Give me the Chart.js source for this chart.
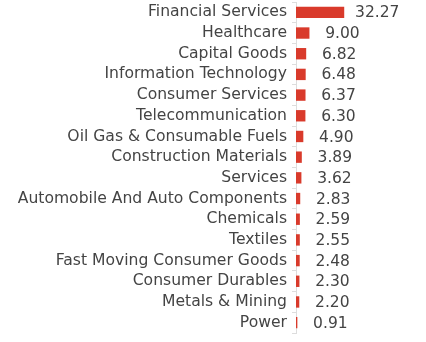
<!DOCTYPE html>
<html>
<head>
    <title>Sector Allocation</title>
    <script src="https://cdn.jsdelivr.net/npm/chart.js"></script>
    <style>
        body { margin: 0; background: #fff; }
        #wrap { width: 426px; height: 342px; }
    </style>
</head>
<body>
    <div id="wrap"><canvas id="myChart"></canvas></div>
    <script>
        var sectors = [
            'Financial Services', 'Healthcare', 'Capital Goods', 'Information Technology',
            'Consumer Services', 'Telecommunication', 'Oil Gas & Consumable Fuels',
            'Construction Materials', 'Services', 'Automobile And Auto Components',
            'Chemicals', 'Textiles', 'Fast Moving Consumer Goods', 'Consumer Durables',
            'Metals & Mining', 'Power'
        ];
        var weights = [32.27, 9.00, 6.82, 6.48, 6.37, 6.30, 4.90, 3.89, 3.62, 2.83, 2.59, 2.55, 2.48, 2.30, 2.20, 0.91];

        var fontFamily = "'DejaVu Sans', sans-serif";

        // write the value just past the end of each bar
        var valueLabels = {
            id: 'valueLabels',
            afterDatasetsDraw: function (chart) {
                var ctx = chart.ctx;
                var meta = chart.getDatasetMeta(0);
                ctx.save();
                ctx.font = '15.5px ' + fontFamily;
                ctx.fillStyle = '#444';
                ctx.textAlign = 'center';
                ctx.textBaseline = 'middle';
                meta.data.forEach(function (bar, i) {
                    ctx.fillText(weights[i].toFixed(2), bar.x + 33, bar.y + 1);
                });
                ctx.restore();
            }
        };

        var ctx = document.getElementById('myChart').getContext('2d');
        var myChart = new Chart(ctx, {
            type: 'bar',
            data: {
                labels: sectors,
                datasets: [{
                    data: weights,
                    backgroundColor: '#d93a2b',
                    barPercentage: 0.55,
                    categoryPercentage: 1
                }]
            },
            options: {
                indexAxis: 'y',
                responsive: true,
                maintainAspectRatio: false,
                animation: false,
                layout: { padding: { top: 2, bottom: 9, left: 0, right: 0 } },
                plugins: {
                    legend: { display: false },
                    tooltip: { enabled: false }
                },
                scales: {
                    x: {
                        display: false,
                        min: 0,
                        max: 87
                    },
                    y: {
                        afterFit: function (scale) {
                            scale.width = 296;
                            scale.paddingTop = 0;
                            scale.paddingBottom = 0;
                        },
                        border: { color: '#ddd' },
                        grid: {
                            drawOnChartArea: false,
                            drawTicks: true,
                            tickLength: 4,
                            color: '#ddd'
                        },
                        ticks: {
                            autoSkip: false,
                            color: '#444',
                            padding: 5,
                            font: { family: fontFamily, size: 15.6 }
                        }
                    }
                }
            },
            plugins: [valueLabels]
        });
    </script>
</body>
</html>
